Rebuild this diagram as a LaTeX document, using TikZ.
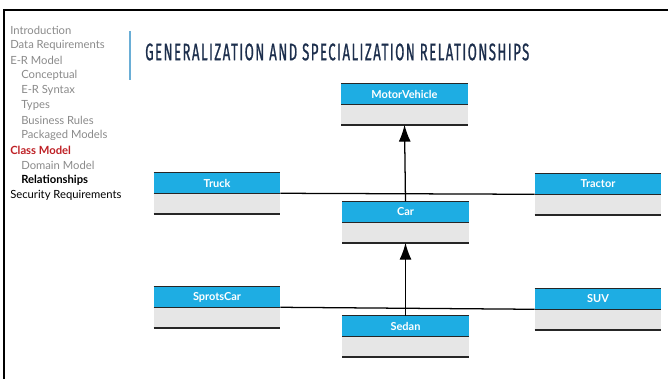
\documentclass[tikz,border=0pt]{standalone}
\usepackage{fontspec}
\setsansfont{Lato}
\newfontfamily\titlefont[FakeStretch=0.55,LetterSpace=6.2,FakeBold=0.8]{Fira Sans}
\usepackage{tikz}
\usetikzlibrary{positioning,arrows.meta}
\definecolor{headblue}{HTML}{1EADE3}
\definecolor{bodygray}{HTML}{E6E6E6}
\definecolor{menugray}{HTML}{8A8A8A}
\definecolor{menured}{HTML}{BE2025}
\definecolor{titlenavy}{HTML}{1C2E4C}
\definecolor{barblue}{HTML}{6AAED6}
\newcommand{\headcolor}{headblue}
\newcommand{\bodycolor}{bodygray}
\newcommand{\boxwidth}{3.15cm}
\newcommand{\rowheight}{0.5cm}
\tikzset{
  classhead/.style={fill=\headcolor, text=white, font=\sffamily\bfseries\fontsize{7.8}{9}\selectfont,
    minimum width=\boxwidth, minimum height=\rowheight, inner sep=0pt},
  classbody/.style={fill=\bodycolor, minimum width=\boxwidth, minimum height=\rowheight, inner sep=0pt},
  classline/.style={line width=1pt, black!85},
  menuitem/.style={anchor=west, inner sep=0pt, text=menugray, font=\sffamily\fontsize{8}{9}\selectfont},
  link/.style={line width=0.9pt},
  isa/.style={line width=0.9pt, -{Latex[length=0.42cm,width=0.3cm]}}
}

\begin{document}
\begin{tikzpicture}[x=0.025cm, y=-0.025cm]
\useasboundingbox (0,0) rectangle (668,379);
%frame
\draw[line width=1.6pt] (4,379) -- (4,10) -- (668,10);
\draw[barblue, line width=0.8pt] (130,31) -- (130,80);
%menu
\node[menuitem] (intro) at (10,30) {Introduction};
\node[menuitem] (datareq) at (10,45) {Data Requirements};
\node[menuitem] (ermodel) at (10,60) {E-R Model};
\node[menuitem] (concept) at (21,75) {Conceptual};
\node[menuitem] (ersyntax) at (21,90) {E-R Syntax};
\node[menuitem] (types) at (21,105) {Types};
\node[menuitem] (busrules) at (21,120) {Business Rules};
\node[menuitem] (packaged) at (21,135) {Packaged Models};
\node[menuitem] (classmodel) at (10,150) [text=menured, font=\sffamily\bfseries\fontsize{8}{9}\selectfont] {Class Model};
\node[menuitem] (domain) at (21,165) {Domain Model};
\node[menuitem] (relships) at (21,180) [text=black, font=\sffamily\bfseries\fontsize{8}{9}\selectfont] {Relationships};
\node[menuitem] (security) at (10,195) [text=black] {Security Requirements};
%title
\node[anchor=west, inner sep=0pt, text=titlenavy, font=\titlefont\fontsize{17}{19}\selectfont] (title) at (145,52) {GENERALIZATION AND SPECIALIZATION RELATIONSHIPS};
%classes
\node[classhead] (mv) at (404.5,94) {MotorVehicle};
\node[classbody, below=0pt of mv] (mvbody) {};
\node[classhead] (truck) at (217,183) {Truck};
\node[classbody, below=0pt of truck] (truckbody) {};
\node[classhead] (car) at (405.5,212) {Car};
\node[classbody, below=0pt of car] (carbody) {};
\node[classhead] (tractor) at (598,184) {Tractor};
\node[classbody, below=0pt of tractor] (tractorbody) {};
\node[classhead] (sprotscar) at (217,297) {SprotsCar};
\node[classbody, below=0pt of sprotscar] (sprotscarbody) {};
\node[classhead] (sedan) at (405.5,326) {Sedan};
\node[classbody, below=0pt of sedan] (sedanbody) {};
\node[classhead] (suv) at (598,299) {SUV};
\node[classbody, below=0pt of suv] (suvbody) {};
%rules
\draw[classline] (mv.north west) -- (mv.north east) (mv.south west) -- (mv.south east) (mvbody.south west) -- (mvbody.south east);
\draw[classline] (truck.north west) -- (truck.north east) (truck.south west) -- (truck.south east) (truckbody.south west) -- (truckbody.south east);
\draw[classline] (car.north west) -- (car.north east) (car.south west) -- (car.south east) (carbody.south west) -- (carbody.south east);
\draw[classline] (tractor.north west) -- (tractor.north east) (tractor.south west) -- (tractor.south east) (tractorbody.south west) -- (tractorbody.south east);
\draw[classline] (sprotscar.north west) -- (sprotscar.north east) (sprotscar.south west) -- (sprotscar.south east) (sprotscarbody.south west) -- (sprotscarbody.south east);
\draw[classline] (sedan.north west) -- (sedan.north east) (sedan.south west) -- (sedan.south east) (sedanbody.south west) -- (sedanbody.south east);
\draw[classline] (suv.north west) -- (suv.north east) (suv.south west) -- (suv.south east) (suvbody.south west) -- (suvbody.south east);
%links
\draw[link] (truck.south east) -- (tractor.south west);
\draw[link] (sprotscar.south east) -- (suv.south west);
\draw[isa] (car.north) -- (mvbody.south);
\draw[isa] (sedan.north) -- (carbody.south);
\end{tikzpicture}
\end{document}
